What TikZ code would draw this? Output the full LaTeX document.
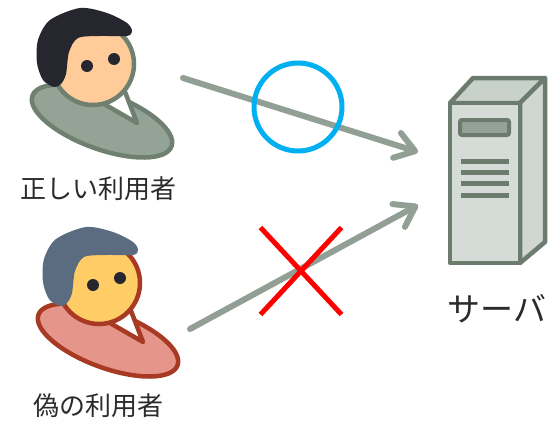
\documentclass[tikz,border=0pt]{standalone}
\usepackage{fontspec}
\usepackage{xcolor}
\usetikzlibrary{arrows.meta,shapes.misc}
\newfontfamily\jpfont{Noto Sans CJK JP}

\definecolor{txt}{HTML}{2B2B2B}
\definecolor{flowc}{HTML}{919F94}
\definecolor{okblue}{HTML}{00B0F0}
\definecolor{srvline}{HTML}{6B7B6E}
\definecolor{srvface}{HTML}{D5DBD6}
\definecolor{srvside}{HTML}{D0D7D2}
\definecolor{srvtop}{HTML}{C9D1CB}
\definecolor{srvslot}{HTML}{93A396}
\definecolor{eyec}{HTML}{26262F}
% good user
\definecolor{goodhair}{HTML}{26262F}
\definecolor{goodface}{HTML}{FFCC99}
\definecolor{goodline}{HTML}{6F7F70}
\definecolor{goodbody}{HTML}{93A396}
% fake user
\definecolor{badhair}{HTML}{5B6B80}
\definecolor{badface}{HTML}{FFCC66}
\definecolor{badline}{HTML}{A83A24}
\definecolor{badbody}{HTML}{E5958A}

% user icon: #1 shift, #2 hair, #3 face, #4 outline, #5 body
\newcommand{\usericon}[5]{%
  \begin{scope}[shift={#1}, line width=4.5pt, draw=#4, line join=round]
    \draw[fill=#5, rotate around={-20:(102,121)}] (102,121) ellipse (74 and 28);
    \draw[fill=white] (97,100) -- (137,123) -- (122,84);
    \draw[fill=#3] (93,64) circle (41);
    \fill[#2] plot[smooth cycle] coordinates {(54,87) (43,80) (37,63) (38,40)
      (50,20) (80,8) (107,13) (127,23) (132,31) (127,36) (100,36) (78,38)
      (69,52) (66,74) (61,84)};
    \fill[eyec] (87,66) circle (6) (114,59) circle (6);
  \end{scope}}

\begin{document}
\begin{tikzpicture}[
        x = 1pt, y = -1pt,
        lbl/.style = { text = txt, inner sep = 0, font = \jpfont\fontsize{26}{30}\selectfont },
        flow/.style = { draw = flowc, line width = 6pt, line cap = round,
          -{Straight Barb[round, length = 19pt, width = 26pt]} },
        srv/.style = { draw = srvline, line width = 4.5pt, line join = round }
        ]
    \useasboundingbox (0,0) rectangle (559,420);

    % the two users
    \usericon{(0,0)}{goodhair}{goodface}{goodline}{goodbody}
    \usericon{(6,219)}{badhair}{badface}{badline}{badbody}
    \node[lbl] (goodlbl) at (98,189) {正しい利用者};
    \node[lbl] (badlbl) at (98,406) {偽の利用者};

    % server box
    \draw[srv, fill=srvtop] (450,103) -- (473,78) -- (545,78) -- (520,103) -- cycle;
    \draw[srv, fill=srvside] (520,103) -- (545,78) -- (545,242) -- (520,263) -- cycle;
    \draw[srv, fill=srvface] (450,103) rectangle (520,263);
    \draw[draw=srvline, fill=srvslot, line width=4pt, rounded corners=2pt] (460,120) rectangle (509,135);
    \foreach \y in {161,172,183,195}
        \draw[srvline, line width=5pt] (461,\y) -- (509,\y);
    \node[lbl, font=\jpfont\fontsize{33}{38}\selectfont] (srvlbl) at (497,309) {サーバ};

    % access arrows
    \coordinate (good) at (183,78);
    \coordinate (bad) at (190,329);
    \coordinate (srvin1) at (418,152);
    \coordinate (srvin2) at (418,205);
    \draw[flow] (good) -- (srvin1);
    \draw[flow] (bad) -- (srvin2);

    \node[draw=okblue, line width=5pt, circle, inner sep=0, minimum size=88pt] (ok) at (298,107) {};
    \node[draw=red, line width=5pt, cross out, inner sep=0, minimum width=76pt, minimum height=82pt] (ng) at (301,271) {};
\end{tikzpicture}
\end{document}
